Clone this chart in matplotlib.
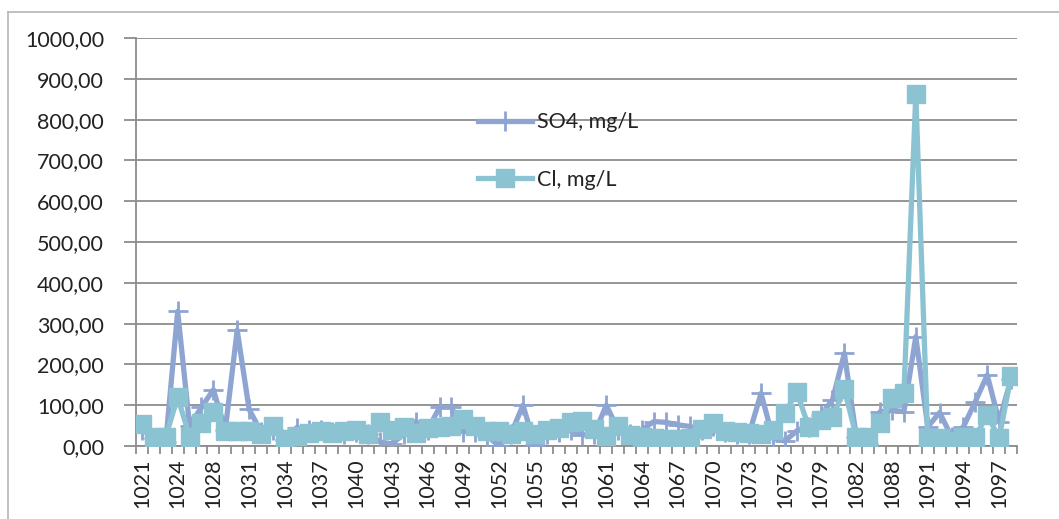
import numpy as np
import matplotlib.pyplot as plt
from matplotlib.lines import Line2D

# sample ids (x categories)
sample_ids = [1021, 1022, 1023, 1024, 1025, 1027] + list(range(1028, 1083)) \
    + [1083, 1085] + list(range(1088, 1099))

so4 = [40, 20, 10, 330, 50, 95, 138, 40, 284, 90,
       35, 40, 15, 45, 40, 40, 35, 30, 35, 30,
       10, 5, 30, 60, 40, 95, 95, 35, 35, 25,
       0, 30, 100, 3, 30, 35, 40, 27, 30, 100,
       40, 30, 40, 60, 58, 52, 48, 40, 50, 35,
       30, 30, 129, 20, 12, 37, 47, 75, 113, 227,
       23, 5, 84, 88, 84, 268, 47, 82, 23, 47,
       109, 174, 60, 165]

cl = [54, 23, 23, 120, 23, 57, 84, 37, 37, 37,
      29, 49, 18, 24, 33, 37, 32, 36, 40, 30,
      60, 40, 47, 32, 45, 47, 50, 67, 48, 36,
      36, 30, 36, 30, 39, 45, 59, 61, 41, 25,
      49, 28, 23, 20, 18, 18, 20, 41, 57, 37,
      35, 33, 30, 38, 80, 133, 47, 64, 70, 139,
      23, 23, 56, 118, 129, 862, 19, 19, 12, 23,
      23, 76, 19, 172]

so4_color = '#8FA5D1'
cl_color = '#8CC3D3'
grid_color = '#8C8C8C'
text_color = '#222222'

plt.rcParams['font.family'] = ['Lato', 'DejaVu Sans']

W, H = 1059, 519
fig = plt.figure(figsize=(W / 100, H / 100), dpi=100)
ax = fig.add_axes([136 / W, 1 - 446 / H, (1017 - 136) / W, (446 - 38) / H])

x = np.arange(len(sample_ids))
ax.plot(x, so4, color=so4_color, lw=3.8, marker='+', ms=15, mew=2,
        label='SO4, mg/L', zorder=3)
ax.plot(x, cl, color=cl_color, lw=3.8, marker='s', ms=13,
        label='Cl, mg/L', zorder=4)

ax.set_xlim(-0.5, len(sample_ids) - 0.5)
ax.set_ylim(0, 1000)
ax.set_yticks(np.arange(0, 1001, 100))
ax.set_yticklabels([f'{v:.2f}'.replace('.', ',') for v in range(0, 1001, 100)])
ax.yaxis.grid(True, color=grid_color, lw=1.3)
ax.set_axisbelow(True)

# tick marks between categories, labels every 3rd category
ax.set_xticks(np.arange(-0.5, len(sample_ids), 1))
ax.set_xticklabels([])
ax.set_xticks(x[::3], minor=True)
ax.set_xticklabels([str(s) for s in sample_ids[::3]], minor=True, rotation=90)
ax.tick_params(axis='x', which='major', length=6, width=1.3, color=grid_color)
ax.tick_params(axis='x', which='minor', length=0, pad=9, labelsize=15.5,
               labelcolor=text_color)
ax.tick_params(axis='y', length=9, width=1.3, color=grid_color, pad=14,
               labelsize=15.5, labelcolor=text_color)

for side in ['top', 'right']:
    ax.spines[side].set_visible(False)
for side in ['left', 'bottom']:
    ax.spines[side].set_color(grid_color)
    ax.spines[side].set_linewidth(1.3)

fig.legend(loc='center left', bbox_to_anchor=(478 / W, 1 - 151 / H),
           bbox_transform=fig.transFigure, frameon=False, fontsize=15.5,
           handlelength=2.5, handletextpad=0.25, labelspacing=1.75,
           borderpad=0, borderaxespad=0, numpoints=1, labelcolor=text_color)

# outer chart border
fig.add_artist(Line2D([8 / W, 8 / W], [0, 1 - 12 / H], color='#BBBBBB', lw=1.3))
fig.add_artist(Line2D([8 / W, 1], [1 - 12 / H, 1 - 12 / H], color='#BBBBBB', lw=1.3))

fig.savefig('out.png', dpi=100)
